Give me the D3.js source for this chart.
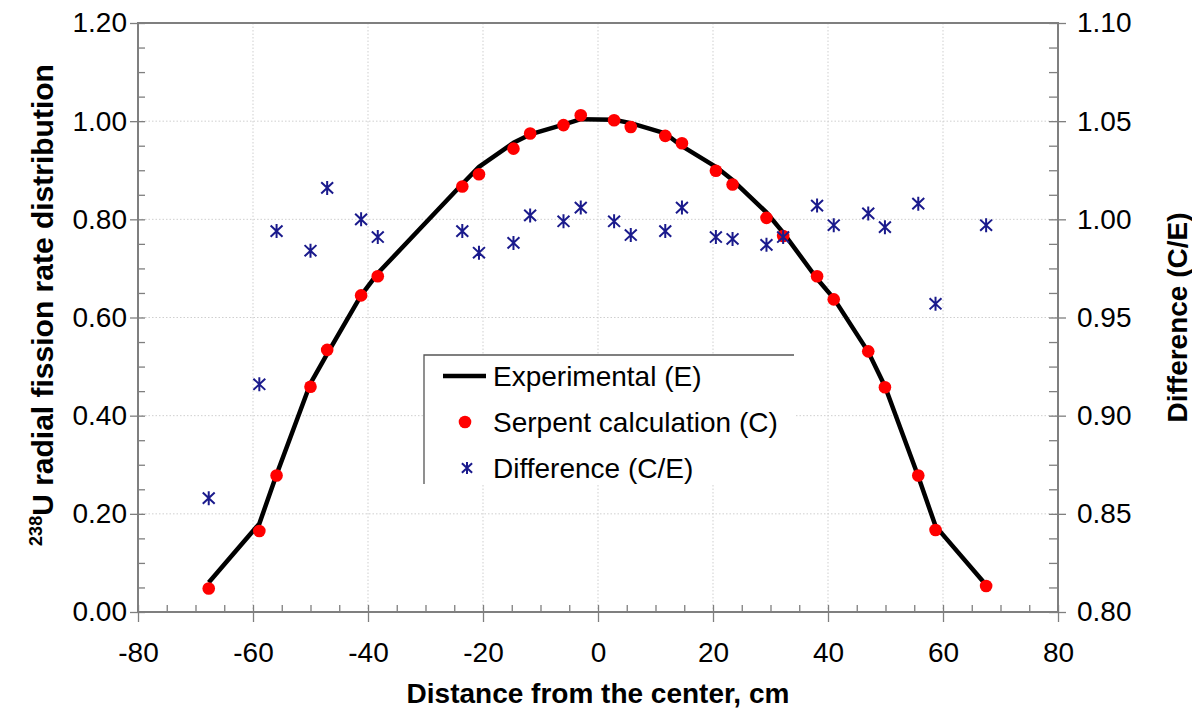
<!DOCTYPE html>
<html>
<head>
<meta charset="utf-8">
<script src="https://cdn.jsdelivr.net/npm/d3@7"></script>
<style>
  html, body { margin: 0; padding: 0; background: #fff; }
  svg { display: block; font-family: "Liberation Sans", Arial, sans-serif; }
</style>
</head>
<body>
<div id="chart"></div>
<script>
// Measurement positions (cm from the core center).
var distance = [-67.7, -58.9, -55.9, -50.0, -47.1, -41.2, -38.3, -23.6, -20.7, -14.7, -11.8, -6.0, -3.0,
                2.8, 5.7, 11.7, 14.6, 20.5, 23.4, 29.3, 32.2, 38.1, 41.0, 47.0, 49.9, 55.7, 58.7, 67.5];

// Experimental (E) radial fission rate, drawn as the black line.
var experimental = [0.060, 0.180, 0.280, 0.466, 0.526, 0.645, 0.690, 0.872, 0.907, 0.956, 0.973, 0.993, 1.004,
                    1.003, 0.996, 0.975, 0.949, 0.907, 0.880, 0.814, 0.773, 0.679, 0.639, 0.530, 0.460, 0.276, 0.175, 0.055];

// Serpent calculation (C), red dots.
var calculated = [0.048, 0.165, 0.278, 0.459, 0.534, 0.645, 0.684, 0.867, 0.892, 0.944, 0.975, 0.992, 1.012,
                  1.002, 0.988, 0.970, 0.955, 0.899, 0.871, 0.803, 0.766, 0.684, 0.637, 0.531, 0.458, 0.278, 0.167, 0.053];

// Difference (C/E), blue asterisks on the right axis.
var difference = [0.858, 0.916, 0.994, 0.984, 1.016, 1.000, 0.991, 0.994, 0.983, 0.988, 1.002, 0.999, 1.006,
                  0.999, 0.992, 0.994, 1.006, 0.991, 0.990, 0.987, 0.991, 1.007, 0.997, 1.003, 0.996, 1.008, 0.957, 0.997];

// Axis ticks.
var xTicks = [-80, -60, -40, -20, 0, 20, 40, 60, 80],
    yLeftTicks = [0, 0.2, 0.4, 0.6, 0.8, 1.0, 1.2],
    yRightTicks = [0.80, 0.85, 0.90, 0.95, 1.00, 1.05, 1.10];

var legendLabels = ["Experimental (E)", "Serpent calculation (C)", "Difference (C/E)"];

// Layout.
var width = 1192,
    height = 711,
    plotLeft = 138,
    plotRight = 1058,
    plotTop = 23,
    plotBottom = 612,
    axisColor = "#7f7f7f",
    starColor = "#1a1a8c",
    fontSize = 28;

var svg = d3.select("#chart").append("svg")
  .attr("width", width)
  .attr("height", height);

var x = d3.scaleLinear().domain([-80, 80]).range([plotLeft, plotRight]),
    yLeft = d3.scaleLinear().domain([0, 1.2]).range([plotBottom, plotTop]),
    yRight = d3.scaleLinear().domain([0.8, 1.1]).range([plotBottom, plotTop]);

// Minor ticks: every 5 cm on x, quarter steps on y.
var xMinor = d3.range(-80, 80.1, 5),
    yMinor = d3.range(0, 1.2001, 0.05);

// Plain hyphen for negative numbers, like the original.
var fmtInt = function (d){ return String(d); },
    fmt2 = function (d){ return d.toFixed(2); };

// Dotted grid at major ticks.
var grid = svg.append("g").attr("class", "grid");
grid.selectAll("line.v")
  .data(xTicks.slice(1, -1))
  .join("line")
    .attr("class", "v")
    .attr("x1", function (d){ return x(d); })
    .attr("x2", function (d){ return x(d); })
    .attr("y1", plotTop)
    .attr("y2", plotBottom);
grid.selectAll("line.h")
  .data(yLeftTicks.slice(1, -1))
  .join("line")
    .attr("class", "h")
    .attr("x1", plotLeft)
    .attr("x2", plotRight)
    .attr("y1", function (d){ return yLeft(d); })
    .attr("y2", function (d){ return yLeft(d); });
grid.selectAll("line")
  .attr("stroke", "#cfcfcf")
  .attr("stroke-width", 1)
  .attr("stroke-dasharray", "1.5,2");

// Helper to style an axis group.
function styleAxis(g){
  g.select(".domain").remove();
  g.selectAll(".tick line").attr("stroke", axisColor).attr("stroke-width", 1.3);
  g.selectAll(".tick text")
    .attr("fill", "#000")
    .style("font-size", fontSize + "px")
    .style("font-family", "'Liberation Sans', Arial, sans-serif");
}

// Bottom axis: labelled major ticks outward, all ticks inward.
svg.append("g")
  .attr("transform", "translate(0," + plotBottom + ")")
  .call(d3.axisBottom(x).tickValues(xTicks).tickSize(10).tickPadding(20).tickFormat(fmtInt))
  .call(styleAxis);
svg.append("g")
  .attr("transform", "translate(0," + plotBottom + ")")
  .call(d3.axisTop(x).tickValues(xMinor).tickSize(7).tickFormat(""))
  .call(styleAxis);

// Left axis.
svg.append("g")
  .attr("transform", "translate(" + plotLeft + ",0)")
  .call(d3.axisLeft(yLeft).tickValues(yLeftTicks).tickSize(8).tickPadding(3).tickFormat(fmt2))
  .call(styleAxis);
svg.append("g")
  .attr("transform", "translate(" + plotLeft + ",0)")
  .call(d3.axisRight(yLeft).tickValues(yMinor).tickSize(7).tickFormat(""))
  .call(styleAxis);

// Right axis.
svg.append("g")
  .attr("transform", "translate(" + plotRight + ",0)")
  .call(d3.axisRight(yRight).tickValues(yRightTicks).tickSize(8).tickPadding(11).tickFormat(fmt2))
  .call(styleAxis);
svg.append("g")
  .attr("transform", "translate(" + plotRight + ",0)")
  .call(d3.axisLeft(yLeft).tickValues(yMinor).tickSize(9).tickFormat(""))
  .call(styleAxis);

// Plot frame.
svg.append("rect")
  .attr("x", plotLeft)
  .attr("y", plotTop)
  .attr("width", plotRight - plotLeft)
  .attr("height", plotBottom - plotTop)
  .attr("fill", "none")
  .attr("stroke", axisColor)
  .attr("stroke-width", 2);

// Axis titles.
svg.append("text")
  .attr("x", (plotLeft + plotRight) / 2)
  .attr("y", 703)
  .attr("text-anchor", "middle")
  .style("font-size", fontSize + "px")
  .style("font-weight", "bold")
  .text("Distance from the center, cm");

var yTitle = svg.append("text")
  .attr("transform", "translate(53,305) rotate(-90)")
  .attr("text-anchor", "middle")
  .style("font-size", "30px")
  .style("font-weight", "bold");
yTitle.append("tspan")
  .style("font-size", "18px")
  .attr("dy", -11)
  .text("238");
yTitle.append("tspan")
  .attr("dy", 11)
  .text("U radial fission rate distribution");

svg.append("text")
  .attr("transform", "translate(1187," + ((plotTop + plotBottom) / 2) + ") rotate(-90)")
  .attr("text-anchor", "middle")
  .style("font-size", fontSize + "px")
  .style("font-weight", "bold")
  .text("Difference (C/E)");

// Legend box (white fill, top and left edges visible).
var legend = svg.append("g").attr("transform", "translate(424,355)");
legend.append("rect")
  .attr("width", 370)
  .attr("height", 129)
  .attr("fill", "#fff");
legend.append("path")
  .attr("d", "M0,129V0H370")
  .attr("fill", "none")
  .attr("stroke", "#555")
  .attr("stroke-width", 1.3);

// Asterisk marker (vertical bar plus an X).
function starPath(s){
  var w = s * 0.85, h = s * 0.8;
  return "M0," + (-s) + "V" + s +
         "M" + (-w) + "," + (-h) + "L" + w + "," + h +
         "M" + (-w) + "," + h + "L" + w + "," + (-h);
}

var rows = legend.selectAll("g.row")
  .data(legendLabels)
  .join("g")
    .attr("class", "row")
    .attr("transform", function (d, i){ return "translate(0," + (21 + i * 46) + ")"; });
rows.append("text")
  .attr("x", 69)
  .attr("dy", "0.35em")
  .style("font-size", fontSize + "px")
  .text(function (d){ return d; });
rows.filter(function (d, i){ return i === 0; })
  .append("line")
    .attr("x1", 19).attr("x2", 62)
    .attr("stroke", "#000")
    .attr("stroke-width", 4.5);
rows.filter(function (d, i){ return i === 1; })
  .append("circle")
    .attr("cx", 41)
    .attr("r", 6.3)
    .attr("fill", "#ff0000");
rows.filter(function (d, i){ return i === 2; })
  .append("path")
    .attr("transform", "translate(43,0)")
    .attr("d", starPath(6))
    .attr("stroke", starColor)
    .attr("stroke-width", 2)
    .attr("fill", "none");

// Experimental line.
var line = d3.line()
  .x(function (d, i){ return x(distance[i]); })
  .y(function (d){ return yLeft(d); });
svg.append("path")
  .datum(experimental)
  .attr("d", line)
  .attr("fill", "none")
  .attr("stroke", "#000")
  .attr("stroke-width", 4.5)
  .attr("stroke-linejoin", "round");

// Serpent calculation dots.
svg.append("g")
  .selectAll("circle")
  .data(calculated)
  .join("circle")
    .attr("cx", function (d, i){ return x(distance[i]); })
    .attr("cy", function (d){ return yLeft(d); })
    .attr("r", 6.3)
    .attr("fill", "#ff0000");

// Difference asterisks.
svg.append("g")
  .selectAll("path")
  .data(difference)
  .join("path")
    .attr("transform", function (d, i){
      return "translate(" + x(distance[i]) + "," + yRight(d) + ")";
    })
    .attr("d", starPath(7))
    .attr("stroke", starColor)
    .attr("stroke-width", 2)
    .attr("fill", "none");
</script>
</body>
</html>
